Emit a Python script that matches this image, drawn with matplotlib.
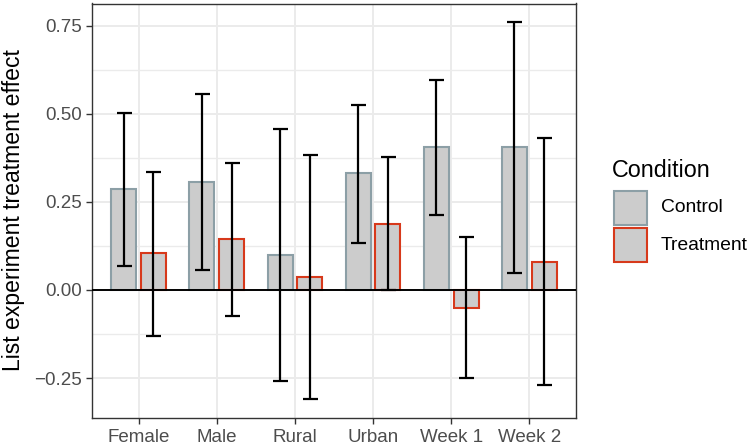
import matplotlib.pyplot as plt
import numpy as np
from matplotlib.patches import Rectangle

plt.rcParams['font.family'] = ['Liberation Sans', 'DejaVu Sans']

# -------------------------------
# DATA
# -------------------------------
groups = ["Female", "Male", "Rural", "Urban", "Week 1", "Week 2"]
conditions = ["Control", "Treatment"]

control_est = [0.287, 0.307, 0.100, 0.331, 0.406, 0.406]
control_lo = [0.069, 0.056, -0.259, 0.133, 0.213, 0.047]
control_hi = [0.501, 0.557, 0.456, 0.525, 0.597, 0.761]

treat_est = [0.105, 0.145, 0.037, 0.188, -0.050, 0.080]
treat_lo = [-0.130, -0.073, -0.309, 0.000, -0.251, -0.271]
treat_hi = [0.336, 0.360, 0.382, 0.378, 0.151, 0.431]

fill_color = "#cccccc"
edge_colors = ["#8c9fa6", "#d7391b"]

W, H = 750, 446

# -------------------------------
# PLOT
# -------------------------------
fig = plt.figure(figsize=(W / 100, H / 100), dpi=100)
ax = fig.add_axes([92 / W, 28.5 / H, 484 / W, 414 / H])

x = np.arange(1, len(groups) + 1)
offset = 0.19
width = 0.32

series = [
    (control_est, control_lo, control_hi),
    (treat_est, treat_lo, treat_hi),
]

for i, (est, lo, hi) in enumerate(series):
    pos = x + (offset if i else -offset)
    ax.bar(pos, est, width=width, color=fill_color, edgecolor=edge_colors[i],
           linewidth=1.5, zorder=2)
    est = np.array(est)
    yerr = [est - np.array(lo), np.array(hi) - est]
    ax.errorbar(pos, est, yerr=yerr, fmt='none', ecolor='black',
                elinewidth=1.6, capsize=5.4, capthick=1.6, zorder=4)

ax.axhline(0, color='black', linewidth=1.4, zorder=3)

ax.set_xlim(0.404, 6.597)
ax.set_ylim(-0.362, 0.813)

yticks = [-0.25, 0.0, 0.25, 0.5, 0.75]
ax.set_yticks(yticks)
ax.set_yticklabels(["\u22120.25", "0.00", "0.25", "0.50", "0.75"])
ax.set_yticks([-0.125, 0.125, 0.375, 0.625], minor=True)
ax.set_xticks(x)
ax.set_xticklabels(groups)

ax.grid(True, which='major', color='#ebebeb', linewidth=1.4, zorder=0)
ax.grid(True, which='minor', axis='y', color='#ebebeb', linewidth=1.0, zorder=0)
ax.set_axisbelow(True)

ax.tick_params(axis='both', which='major', length=4, width=1, color='#333333',
               labelcolor='#4d4d4d', labelsize=13.5)
ax.tick_params(axis='x', which='major', pad=4)
ax.tick_params(axis='y', which='major', pad=3)
ax.tick_params(axis='both', which='minor', length=0)
for s in ax.spines.values():
    s.set_color('#333333')
    s.set_linewidth(1.0)

ax.set_ylabel("List experiment treatment effect", fontsize=16.6, labelpad=7)

# -------------------------------
# LEGEND (drawn by hand, ggplot style)
# -------------------------------
fig.text(612 / W, 1 - 177 / H, "Condition", fontsize=16.8, ha='left',
         va='baseline')
key_w, key_h = 35, 36
for i, name in enumerate(conditions):
    top = 190 + i * (key_h + 1)
    fig.add_artist(Rectangle((613.5 / W, 1 - (top + key_h - 1) / H),
                             (key_w - 2) / W, (key_h - 2) / H,
                             transform=fig.transFigure, facecolor=fill_color,
                             edgecolor=edge_colors[i], linewidth=1.5))
    fig.text(661 / W, 1 - (top + key_h / 2) / H, name, fontsize=13.9,
             ha='left', va='center')

fig.savefig("out.png", dpi=100)
